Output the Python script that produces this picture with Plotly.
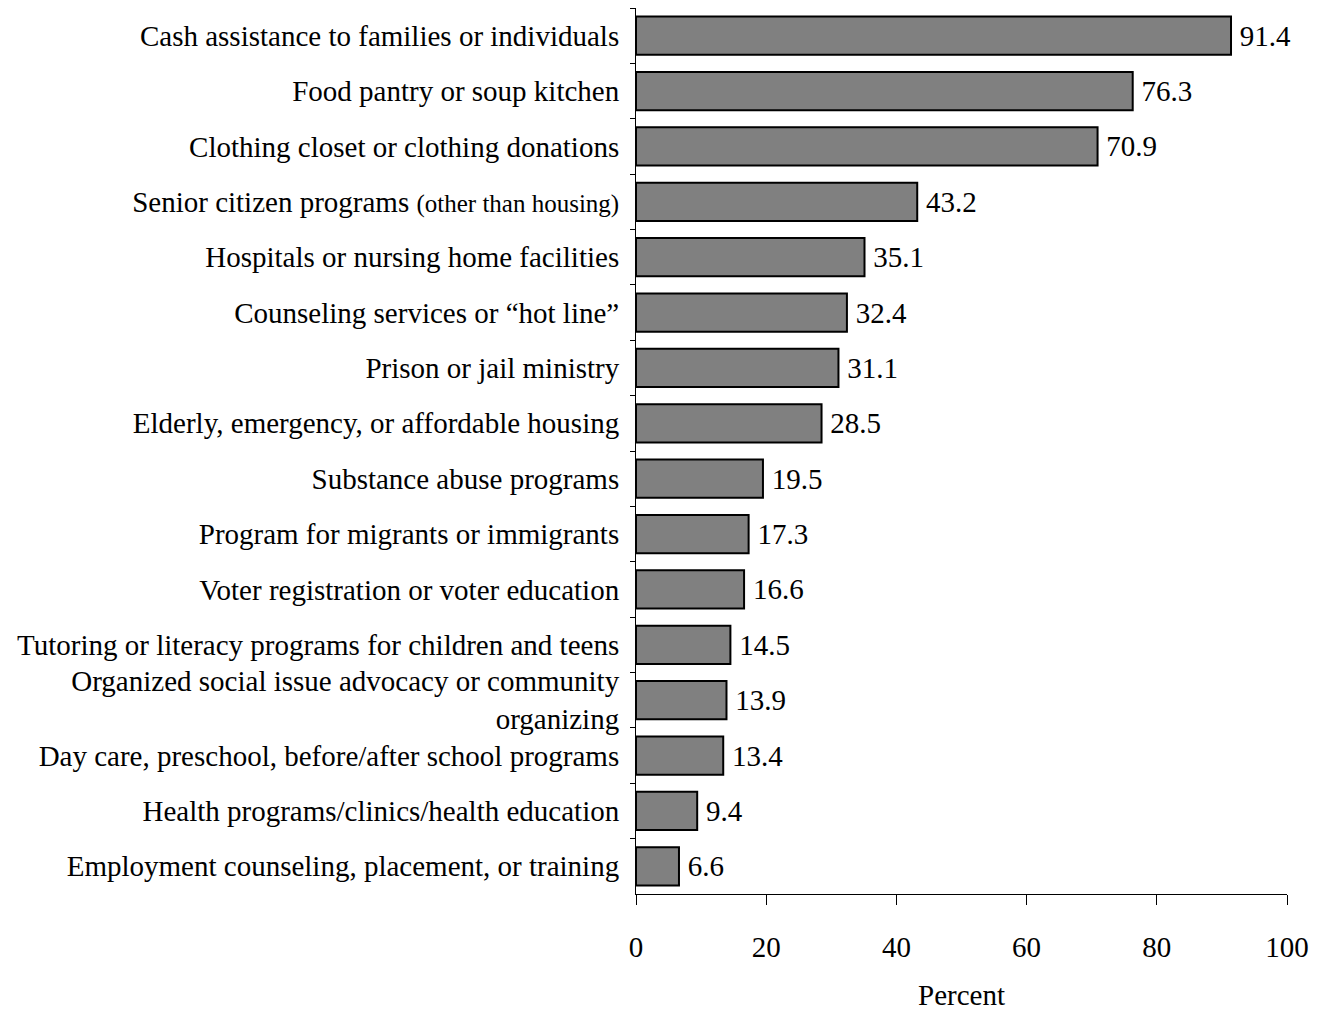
import plotly.graph_objects as go

categories = [
    "Cash assistance to families or individuals",
    "Food pantry or soup kitchen",
    "Clothing closet or clothing donations",
    "Senior citizen programs <span style='font-size:25px'>(other than housing)</span>",
    "Hospitals or nursing home facilities",
    "Counseling services or \u201chot line\u201d",
    "Prison or jail ministry",
    "Elderly, emergency, or affordable housing",
    "Substance abuse programs",
    "Program for migrants or immigrants",
    "Voter registration or voter education",
    "Tutoring or literacy programs for children and teens",
    "Organized social issue advocacy or community<br>organizing",
    "Day care, preschool, before/after school programs",
    "Health programs/clinics/health education",
    "Employment counseling, placement, or training",
]
values = [91.4, 76.3, 70.9, 43.2, 35.1, 32.4, 31.1, 28.5, 19.5, 17.3, 16.6, 14.5, 13.9, 13.4, 9.4, 6.6]
x_ticks = [0, 20, 40, 60, 80, 100]

font_family = "Liberation Serif, Times New Roman, serif"
FS = 29

fig = go.Figure(
    go.Bar(
        y=categories,
        x=values,
        orientation="h",
        marker=dict(color="#808080", line=dict(color="black", width=2)),
        text=["\u2009" + f"{v:.1f}" for v in values],
        textposition="outside",
        textfont=dict(family=font_family, size=FS, color="black"),
        cliponaxis=False,
    )
)

fig.update_layout(
    width=1314,
    height=1005,
    margin=dict(l=628, r=35, t=0, b=119),
    paper_bgcolor="white",
    plot_bgcolor="white",
    font=dict(family=font_family, size=FS, color="black"),
    bargap=0.31,
    showlegend=False,
)

fig.update_yaxes(
    autorange="reversed",
    showline=True,
    linecolor="black",
    linewidth=1,
    ticks="outside",
    tickson="boundaries",
    ticklen=5,
    tickcolor="black",
    ticklabelstandoff=10,
    showgrid=False,
    tickfont=dict(family=font_family, size=FS, color="black"),
)

fig.update_xaxes(
    range=[0, 100],
    tickvals=x_ticks,
    ticktext=[str(t) for t in x_ticks],
    showline=True,
    linecolor="black",
    linewidth=1,
    ticks="outside",
    ticklen=10,
    tickcolor="black",
    ticklabelstandoff=17,
    showgrid=False,
    zeroline=False,
    tickfont=dict(family=font_family, size=FS, color="black"),
    title=dict(text="Percent", font=dict(family=font_family, size=FS, color="black"), standoff=22),
)

fig.write_html("out.html")
